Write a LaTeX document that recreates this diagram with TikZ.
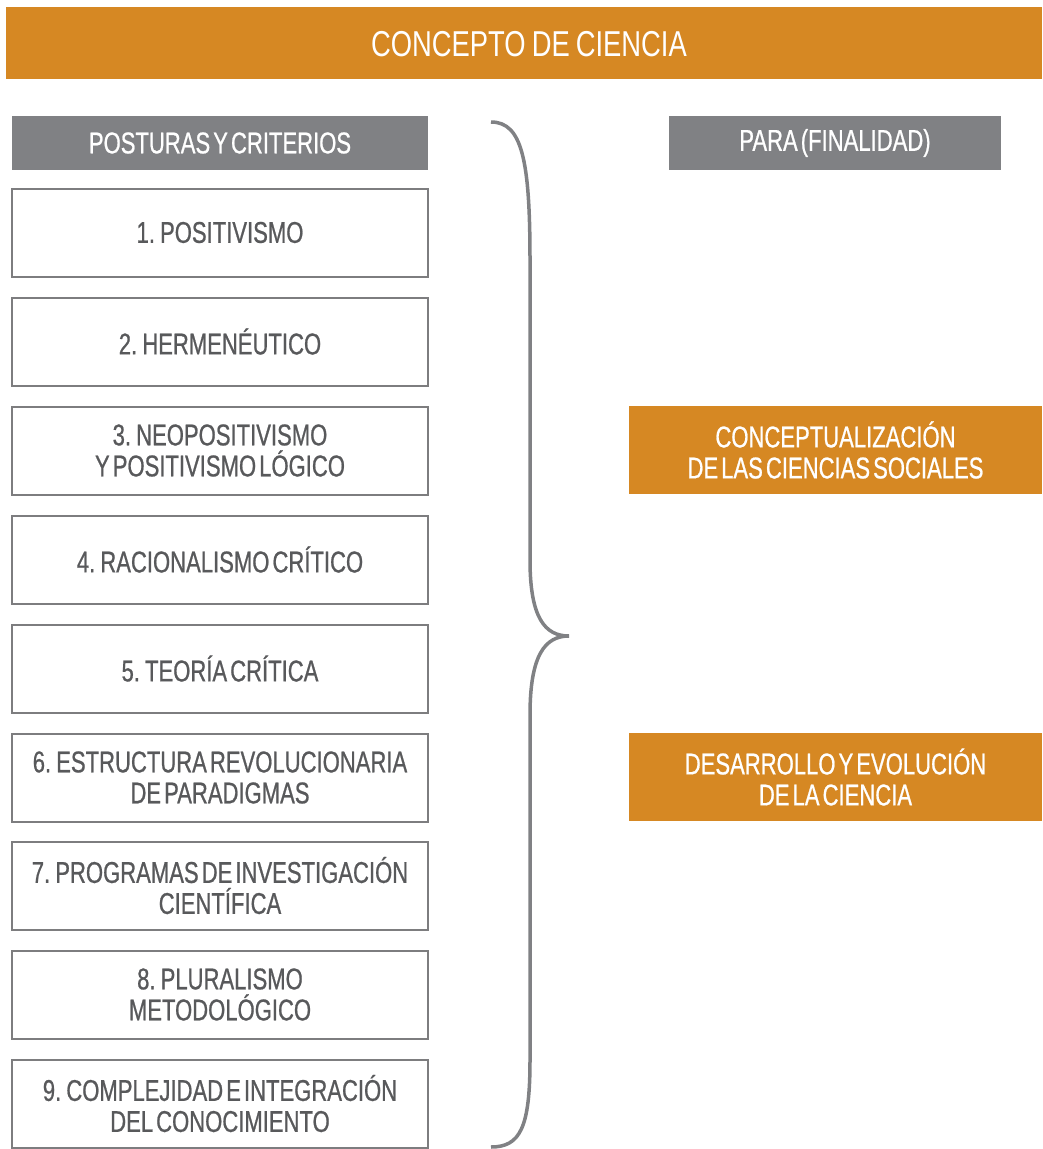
\documentclass[tikz,border=0pt]{standalone}
\usepackage{fontspec}
\setmainfont{Liberation Sans}[FakeStretch=0.76, WordSpace=0.8]
\newfontfamily\boxfont{Liberation Sans}[FakeStretch=0.735, FakeBold=0.7, WordSpace=0.5]
\definecolor{corange}{HTML}{D68823}
\definecolor{cgray}{HTML}{808184}
\definecolor{cborder}{HTML}{7D7D7F}
\definecolor{ctext}{HTML}{58595B}
\tikzset{
  postbox/.style={draw=cborder, line width=2pt, fill=white, minimum width=416pt, minimum height=88pt, inner sep=0pt, align=center, text=ctext, font=\boxfont\fontsize{30}{31}\selectfont},
  headbox/.style={fill=cgray, minimum height=54pt, inner sep=0pt, text=white, font=\boxfont\fontsize{30}{31}\selectfont},
  orbox/.style={fill=corange, minimum width=413pt, minimum height=88pt, inner sep=0pt, align=center, text=white, font=\boxfont\fontsize{30}{31}\selectfont},
  bracestyle/.style={draw=cgray, line width=3.5pt}
}
\begin{document}
\begin{tikzpicture}[x=1pt,y=-1pt]
\useasboundingbox (0,0) rectangle (1042,1149);
\node[fill=corange, minimum width=1036pt, minimum height=72pt, inner sep=0pt] (title) at (524,43) {};
\node[text=white, font=\fontsize{36}{38}\selectfont, inner sep=0pt] (titletext) at (529,44) {CONCEPTO DE CIENCIA};
\node[headbox, minimum width=416pt] (hpost) at (220,143) {POSTURAS Y CRITERIOS};
\node[headbox, minimum width=332pt] (hpara) at (835,143) {PARA (FINALIDAD)};
\node[postbox] (b1) at (220,232.5) {1. POSITIVISMO};
\node[postbox] (b2) at (220,341.5) {2. HERMENÉUTICO};
\node[postbox] (b3) at (220,450.5) {3. NEOPOSITIVISMO\\Y POSITIVISMO LÓGICO};
\node[postbox] (b4) at (220,559.5) {4. RACIONALISMO CRÍTICO};
\node[postbox] (b5) at (220,668.5) {5. TEORÍA CRÍTICA};
\node[postbox] (b6) at (220,777.5) {6. ESTRUCTURA REVOLUCIONARIA\\DE PARADIGMAS};
\node[postbox] (b7) at (220,885.5) {7. PROGRAMAS DE INVESTIGACIÓN\\CIENTÍFICA};
\node[postbox] (b8) at (220,994.5) {8. PLURALISMO\\METODOLÓGICO};
\node[postbox] (b9) at (220,1103.5) {9. COMPLEJIDAD E INTEGRACIÓN\\DEL CONOCIMIENTO};
\node[orbox] (o1) at (835.5,450) {CONCEPTUALIZACIÓN\\DE LAS CIENCIAS SOCIALES};
\node[orbox] (o2) at (835.5,777) {DESARROLLO Y EVOLUCIÓN\\DE LA CIENCIA};
\coordinate (btop) at (491,122);
\coordinate (btip) at (569,636);
\coordinate (bbot) at (491,1147);
\draw[bracestyle] (btop) .. controls (522,122) and (530,160) .. (530,260) -- (530,560)
  .. controls (530,618) and (545,636) .. (btip)
  .. controls (545,636) and (530,655) .. (530,715) -- (530,1060)
  .. controls (530,1128) and (520,1147) .. (bbot);
\end{tikzpicture}
\end{document}
